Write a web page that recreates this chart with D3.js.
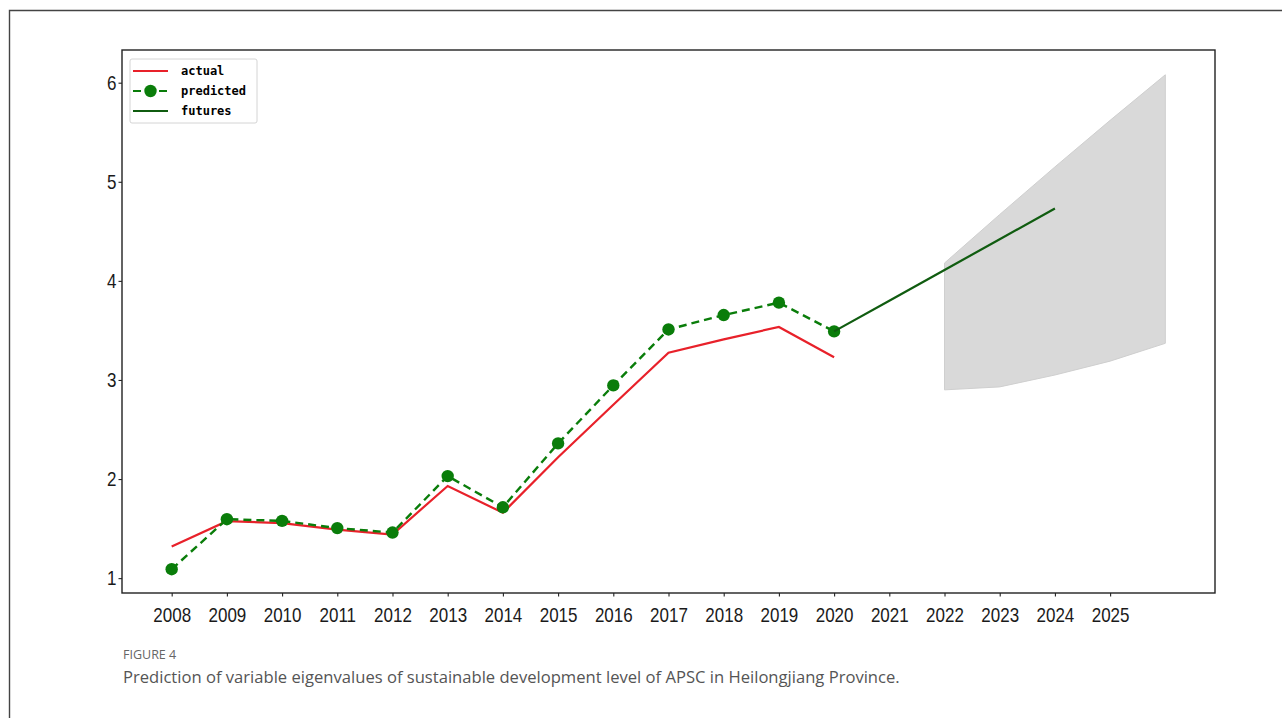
<!DOCTYPE html>
<html>
<head>
<meta charset="utf-8">
<script src="https://cdn.jsdelivr.net/npm/d3@7"></script>
<style>
  html, body { margin: 0; padding: 0; background: #fff; }
  svg { display: block; }
</style>
</head>
<body>
<svg id="chart" width="1282" height="718"></svg>
<script>
// Observed years and series
const years = [2008, 2009, 2010, 2011, 2012, 2013, 2014, 2015, 2016, 2017, 2018, 2019, 2020];
const actualValues = [1.32, 1.575, 1.555, 1.49, 1.44, 1.93, 1.66, 2.22, 2.75, 3.275, 3.41, 3.535, 3.23];
const predictedValues = [1.09, 1.595, 1.578, 1.505, 1.46, 2.03, 1.715, 2.36, 2.945, 3.51, 3.655, 3.78, 3.49];

// Forecast continuation
const futureYears = [2020, 2021, 2022, 2023, 2024];
const futureValues = [3.49, 3.80, 4.11, 4.42, 4.73];

// Confidence band
const bandYears = [2022, 2023, 2024, 2025, 2026];
const bandUpper = [4.18, 4.67, 5.15, 5.62, 6.08];
const bandLower = [2.90, 2.93, 3.05, 3.19, 3.37];

// Axis ticks
const xTickLabels = [2008, 2009, 2010, 2011, 2012, 2013, 2014, 2015, 2016, 2017, 2018, 2019, 2020, 2021, 2022, 2023, 2024, 2025];
const yTickValues = [1, 2, 3, 4, 5, 6];

const svg = d3.select("#chart");

// Page frame around the figure
svg.append("path")
  .attr("d", "M9.5,730 V10.5 H1300")
  .attr("fill", "none")
  .attr("stroke", "#444")
  .attr("stroke-width", 1.4);

const plot = { left: 122, right: 1215, top: 50, bottom: 593 };

const x = d3.scaleLinear()
  .domain([2008 - 0.9, 2026 + 0.9])
  .range([plot.left, plot.right]);

const y = d3.scaleLinear()
  .domain([0.85, 6.33])
  .range([plot.bottom, plot.top]);

const g = svg.append("g");

// Forecast band
const band = d3.area()
  .x((d, i) => x(bandYears[i]))
  .y0((d, i) => y(bandLower[i]))
  .y1((d, i) => y(bandUpper[i]));

g.append("path")
  .datum(bandYears)
  .attr("d", band)
  .attr("fill", "#d9d9d9")
  .attr("stroke", "#cfcfcf")
  .attr("stroke-width", 1);

const line = d3.line()
  .x(d => x(d[0]))
  .y(d => y(d[1]));

const actualPts = years.map((yr, i) => [yr, actualValues[i]]);
const predictedPts = years.map((yr, i) => [yr, predictedValues[i]]);
const futurePts = futureYears.map((yr, i) => [yr, futureValues[i]]);

const RED = "#e8212a";
const GREEN = "#0a7d0a";
const DARKGREEN = "#105c10";

g.append("path")
  .attr("d", line(actualPts))
  .attr("fill", "none")
  .attr("stroke", RED)
  .attr("stroke-width", 2.2);

g.append("path")
  .attr("d", line(predictedPts))
  .attr("fill", "none")
  .attr("stroke", GREEN)
  .attr("stroke-width", 2.4)
  .attr("stroke-dasharray", "8,5");

g.selectAll("circle.pred")
  .data(predictedPts)
  .join("circle")
  .attr("class", "pred")
  .attr("cx", d => x(d[0]))
  .attr("cy", d => y(d[1]))
  .attr("r", 6.2)
  .attr("fill", GREEN);

g.append("path")
  .attr("d", line(futurePts))
  .attr("fill", "none")
  .attr("stroke", DARKGREEN)
  .attr("stroke-width", 2.2);

// Axes
const xAxis = d3.axisBottom(x)
  .tickValues(xTickLabels)
  .tickFormat(d3.format("d"))
  .tickSize(3.5)
  .tickPadding(11);

const yAxis = d3.axisLeft(y)
  .tickValues(yTickValues)
  .tickFormat(d3.format("d"))
  .tickSize(3.5)
  .tickPadding(3);

const xg = svg.append("g")
  .attr("transform", `translate(0,${plot.bottom})`)
  .call(xAxis);
xg.select(".domain").remove();
xg.selectAll("line").attr("stroke", "#222").attr("stroke-width", 1.1);
xg.selectAll("text")
  .attr("font-family", "Liberation Sans, Arial, sans-serif")
  .attr("font-size", 20)
  .attr("fill", "#1a1a1a")
  .attr("transform", "scale(0.85,1)");

const yg = svg.append("g")
  .attr("transform", `translate(${plot.left},0)`)
  .call(yAxis);
yg.select(".domain").remove();
yg.selectAll("line").attr("stroke", "#222").attr("stroke-width", 1.1);
yg.selectAll("text")
  .attr("font-family", "Liberation Sans, Arial, sans-serif")
  .attr("font-size", 20)
  .attr("fill", "#1a1a1a")
  .attr("transform", "scale(0.85,1)");

// Plot frame
svg.append("rect")
  .attr("x", plot.left)
  .attr("y", plot.top)
  .attr("width", plot.right - plot.left)
  .attr("height", plot.bottom - plot.top)
  .attr("fill", "none")
  .attr("stroke", "#222")
  .attr("stroke-width", 1.4);

// Legend
const legend = svg.append("g").attr("transform", "translate(130,59)");
legend.append("rect")
  .attr("width", 127).attr("height", 64)
  .attr("rx", 2)
  .attr("fill", "#fff")
  .attr("stroke", "#d4d4d4")
  .attr("stroke-width", 1);

const legendItems = [
  { label: "actual", color: RED, dash: null, marker: false },
  { label: "predicted", color: GREEN, dash: "8,5", marker: true },
  { label: "futures", color: DARKGREEN, dash: null, marker: false }
];

legendItems.forEach((it, i) => {
  const cy = 12 + i * 20;
  legend.append("line")
    .attr("x1", 3).attr("x2", 38)
    .attr("y1", cy).attr("y2", cy)
    .attr("stroke", it.color)
    .attr("stroke-width", 2.2)
    .attr("stroke-dasharray", it.dash);
  if (it.marker) {
    legend.append("circle")
      .attr("cx", 20.5).attr("cy", cy).attr("r", 6.2)
      .attr("fill", it.color);
  }
  legend.append("text")
    .attr("x", 51).attr("y", cy + 4)
    .attr("font-family", "DejaVu Sans Mono, monospace")
    .attr("font-size", 12)
    .attr("font-weight", 600)
    .attr("fill", "#000")
    .text(it.label);
});

// Caption
svg.append("text")
  .attr("x", 123).attr("y", 659)
  .attr("font-family", "Open Sans, sans-serif")
  .attr("font-size", 12.5)
  .attr("fill", "#666")
  .text("FIGURE 4");

svg.append("text")
  .attr("x", 123).attr("y", 683)
  .attr("font-family", "Open Sans, sans-serif")
  .attr("font-size", 16.6)
  .attr("fill", "#555")
  .text("Prediction of variable eigenvalues of sustainable development level of APSC in Heilongjiang Province.");
</script>
</body>
</html>
